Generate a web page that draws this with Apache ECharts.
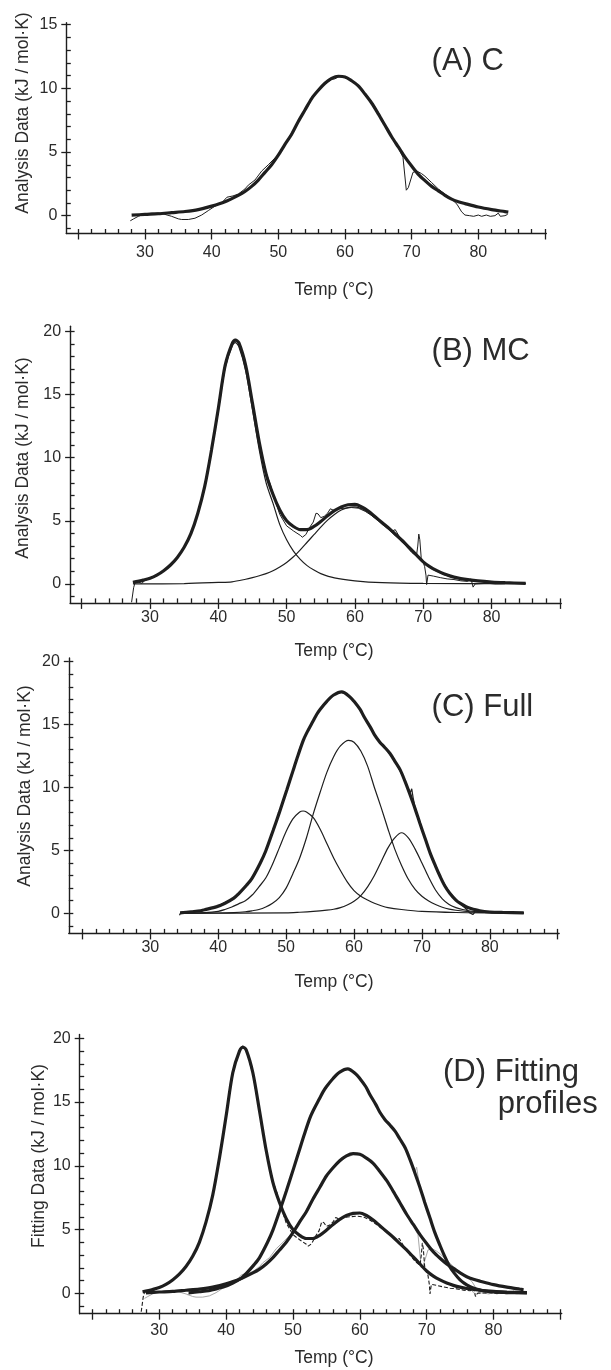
<!DOCTYPE html>
<html>
<head>
<meta charset="utf-8">
<script src="https://cdn.jsdelivr.net/npm/echarts@6.0.0/dist/echarts.min.js"></script>
<style>
  html, body { margin: 0; padding: 0; background: #fff; }
  #main { width: 611px; height: 1370px; }
</style>
</head>
<body>
<div id="main"></div>
<script>
// 轴刻度
var xMajorTicks = [20, 30, 40, 50, 60, 70, 80, 90];
var xMinorTicks = [20, 22, 24, 26, 28, 30, 32, 34, 36, 38, 40, 42, 44, 46, 48, 50, 52, 54, 56, 58, 60, 62, 64, 66, 68, 70, 72, 74, 76, 78, 80, 82, 84, 86, 88, 90];
var xLabels = [30, 40, 50, 60, 70, 80];
var yLabelsA = [0, 5, 10, 15];
var yMinorA = [-1, 0, 1, 2, 3, 4, 5, 6, 7, 8, 9, 10, 11, 12, 13, 14, 15];
var yLabels = [0, 5, 10, 15, 20];
var yMinor = [-1, 0, 1, 2, 3, 4, 5, 6, 7, 8, 9, 10, 11, 12, 13, 14, 15, 16, 17, 18, 19, 20];

// (A) C : [温度, 值]
var aFit = [[28,0.04],[30,0.1],[32,0.15],[34,0.24],[36,0.33],[38,0.48],[40,0.75],[42,1.1],[44,1.6],[45,1.9],[46,2.3],[47,2.8],[48,3.4],[49,4.0],[50,4.75],[51,5.6],[52,6.4],[53,7.4],[54,8.3],[55,9.2],[56,9.85],[57,10.4],[58,10.78],[59,10.95],[60,10.9],[61,10.6],[62,10.2],[63,9.55],[64,8.85],[65,8.0],[66,7.1],[67,6.2],[68,5.4],[69,4.6],[70,3.9],[71,3.25],[72,2.75],[73,2.3],[74,1.95],[75,1.6],[76,1.3],[77,1.1],[78,0.95],[80,0.68],[82,0.48],[84,0.32],[84.5,0.28]];
var aRaw = [[27.8,-0.4],[28.3,-0.25],[29,-0.05],[29.5,0.05],[30.5,0.15],[31,0.2],[32,0.22],[32.5,0.18],[33,0.1],[34,-0.05],[35,-0.25],[35.5,-0.3],[36.5,-0.3],[37.5,-0.2],[38.5,0.05],[39.5,0.4],[40.5,0.75],[41.5,1.0],[42.3,1.45],[43.2,1.55],[44,1.7],[45,2.1],[45.5,2.4],[46.5,2.8],[47.5,3.5],[48.5,4.0],[50,4.8],[52,6.5],[54,8.4],[56,9.9],[57,10.35],[58,10.7],[58.5,10.75],[59.2,10.95],[60,10.85],[61,10.6],[62,10.2],[63,9.6],[64,8.95],[65,8.1],[66,7.15],[67,6.25],[68,5.4],[68.4,4.9],[68.7,4.6],[69.2,2.0],[69.5,2.2],[70.2,3.4],[70.8,3.5],[71.5,3.3],[72,3.1],[73,2.6],[74,2.1],[75,1.7],[76,1.3],[76.8,0.9],[77.5,0.3],[78,0.05],[78.7,0.0],[79.3,-0.05],[80,0.05],[80.5,-0.05],[81.2,0.05],[81.8,-0.05],[82.5,0.0],[83,0.2],[83.3,-0.05],[84,0.0],[84.4,0.1]];

// (B) MC
var bFit = [[27.5,0.12],[29,0.3],[30,0.45],[31,0.7],[32,1.05],[33,1.5],[34,2.1],[35,2.9],[36,4.0],[37,5.6],[38,7.7],[39,10.6],[40,13.9],[41,17.3],[42,19.0],[42.5,19.3],[43,19.1],[44,17.3],[45,14.3],[46,11.2],[47,8.7],[48,7.1],[49,5.85],[50,5.0],[51,4.55],[52,4.3],[53,4.3],[54,4.55],[55,4.95],[56,5.4],[57,5.8],[58,6.1],[59,6.27],[60,6.3],[61,6.1],[62,5.75],[63,5.3],[64,4.85],[65,4.4],[66,3.9],[67,3.4],[68,2.85],[69,2.3],[70,1.75],[71,1.35],[72,1.05],[73,0.8],[74,0.62],[75,0.48],[76,0.38],[78,0.24],[80,0.15],[82,0.1],[85,0.05]];
var bPeak1 = [[27.5,0.12],[29,0.3],[30,0.45],[31,0.7],[32,1.05],[33,1.5],[34,2.1],[35,2.9],[36,4.0],[37,5.55],[38,7.6],[39,10.5],[40,13.7],[41,17.1],[42,18.8],[42.5,19.1],[43,18.8],[44,16.9],[45,13.8],[46,10.6],[47,8.0],[48,6.4],[49,4.7],[50,3.5],[51,2.6],[52,1.95],[53,1.45],[54,1.1],[55,0.82],[57,0.48],[60,0.25],[64,0.1],[70,0.04],[85,0.02]];
var bPeak2 = [[27.5,0.0],[35,0.03],[40,0.12],[42,0.17],[44,0.37],[45,0.5],[46,0.65],[47,0.82],[48,1.05],[49,1.35],[50,1.7],[51,2.15],[52,2.7],[53,3.3],[54,3.9],[55,4.5],[56,5.05],[57,5.5],[58,5.85],[59,6.05],[60,6.1],[61,5.95],[62,5.65],[63,5.2],[64,4.75],[65,4.3],[66,3.8],[67,3.3],[68,2.8],[69,2.25],[70,1.7],[71,1.3],[72,1.0],[73,0.75],[74,0.58],[75,0.45],[76,0.35],[78,0.22],[80,0.14],[82,0.09],[85,0.04]];
var bRaw = [[27.3,-1.45],[27.6,-0.3],[27.8,0.1],[28.3,0.15],[28.8,0.05],[29.2,0.25],[30,0.45],[31,0.72],[32,1.05],[33,1.5],[34,2.1],[35,2.95],[36,4.0],[37,5.6],[38,7.8],[39,10.7],[40,14.0],[41,17.2],[42,19.1],[42.5,19.4],[43,19.1],[44,17.2],[45,14.2],[46,11.1],[47,8.8],[47.6,7.9],[48.2,6.8],[49,5.5],[50,4.6],[51,4.2],[52,3.85],[52.3,3.7],[52.8,3.9],[53.4,4.5],[53.9,4.9],[54.3,5.6],[54.6,5.55],[55,5.25],[55.5,5.35],[56,5.6],[56.4,5.95],[57,5.8],[57.6,5.95],[58.5,6.0],[59.5,6.05],[60.5,6.0],[61.5,5.75],[62.5,5.4],[63.5,5.0],[64.5,4.6],[65.5,4.2],[65.9,4.3],[66.5,3.75],[67.5,3.0],[68.3,2.5],[69,2.2],[69.2,3.0],[69.35,3.95],[69.5,3.5],[69.7,2.1],[70.2,1.4],[70.4,0.7],[70.5,-0.05],[70.7,0.7],[71.5,0.62],[72.5,0.5],[73.5,0.4],[74.5,0.35],[75.5,0.25],[76.5,0.2],[77.0,0.4],[77.3,-0.25],[77.6,0.0],[78.3,0.02],[79.5,0.05],[80.5,0.0],[82,0.02]];

// (C) Full
var cFit = [[34.4,0.03],[36,0.12],[37.4,0.2],[38,0.28],[39.8,0.53],[41,0.8],[42.3,1.2],[43,1.55],[44.2,2.25],[45,2.8],[46.2,4.0],[47,4.95],[48.1,6.6],[49,8.0],[50.1,9.8],[51,11.3],[51.6,12.3],[52.5,13.7],[53,14.3],[54,15.3],[54.5,15.8],[55,16.2],[56,16.85],[57,17.35],[58.2,17.6],[59.4,17.2],[60,16.85],[60.9,16.2],[61.5,15.6],[62.4,14.8],[63,14.2],[63.8,13.6],[64.5,13.2],[65.3,12.7],[66,12.1],[66.8,11.4],[67.5,10.5],[68.2,9.5],[69,8.3],[69.7,7.15],[70.5,5.9],[71.2,4.8],[72,3.75],[72.7,2.9],[73.4,2.15],[74.1,1.6],[75,1.05],[75.6,0.8],[76.5,0.52],[77.1,0.4],[78.5,0.2],[80,0.1],[82,0.06],[85,0.03]];
var cPeak1 = [[34.4,0.0],[38,0.05],[40,0.15],[41,0.3],[42,0.5],[43,0.75],[44,1.0],[45,1.45],[46,2.1],[47,2.8],[48,3.9],[49,5.2],[50,6.5],[51,7.5],[52,8.05],[52.5,8.13],[53,8.05],[54,7.6],[55,6.7],[56,5.55],[57,4.4],[58,3.4],[59,2.5],[60,1.8],[61,1.35],[62,1.05],[63,0.8],[64,0.6],[65,0.45],[67,0.3],[70,0.15],[75,0.06],[80,0.03],[85,0.02]];
var cPeak2 = [[34.4,0.0],[40,0.02],[42.3,0.05],[44,0.12],[45,0.2],[46,0.3],[47,0.5],[48,0.8],[49,1.25],[50,2.0],[51,3.15],[52,4.4],[53,6.0],[54,7.9],[55,9.6],[56,11.2],[57,12.45],[58,13.3],[59.2,13.75],[60,13.6],[61,12.9],[62,11.7],[63,10.0],[64,8.4],[65,6.7],[66,5.1],[67,3.8],[68,2.7],[69,1.9],[70,1.35],[71,0.98],[72,0.7],[73,0.48],[74,0.33],[75,0.24],[77,0.12],[80,0.05],[85,0.02]];
var cPeak3 = [[34.4,0.0],[50,0.03],[52,0.08],[54,0.15],[56,0.25],[57,0.32],[58,0.45],[59,0.66],[60,0.95],[61,1.4],[62,2.1],[63,3.0],[64,4.1],[65,5.2],[66,6.0],[67,6.4],[68,6.0],[69,5.1],[70,4.0],[71,2.85],[72,1.85],[73,1.15],[74,0.7],[75,0.45],[76,0.3],[78,0.12],[80,0.06],[85,0.02]];
var cRaw = [[34.3,-0.15],[34.5,0.08],[36,0.1],[37.5,0.18],[39,0.4],[40,0.6],[41,0.85],[42,1.1],[43,1.5],[44,2.1],[45,2.8],[46,3.8],[47,4.9],[48,6.4],[49,7.9],[50,9.6],[51,11.2],[52,13.1],[53,14.3],[54,15.3],[55,16.2],[56,16.85],[57,17.35],[58,17.6],[59,17.4],[60,16.9],[61,16.1],[62,15.1],[63,14.2],[64,13.5],[65,12.85],[66,12.1],[67,11.1],[67.8,10.1],[68.3,9.6],[68.5,9.9],[68.7,9.2],[69,8.4],[70,6.7],[71,5.1],[72,3.8],[73,2.6],[74,1.7],[75,1.1],[76,0.6],[76.6,0.3],[77,0.05],[77.5,-0.1],[77.8,0.1],[78.5,0.15],[80,0.1],[82,0.05],[85,0.02]];

var ink = '#1e1e1e';
var textColor = '#2b2b2b';
var font = '"Liberation Sans", Arial, Helvetica, sans-serif';

var chart = echarts.init(document.getElementById('main'));

// 四个坐标系的位置
var grids = [
    {left: 66.3, top: 22.8, width: 480, height: 210.7, outerBoundsMode: 'none'},
    {left: 70.1, top: 326.3, width: 491.1, height: 276.6, outerBoundsMode: 'none'},
    {left: 68.8, top: 657.9, width: 490.3, height: 275.5, outerBoundsMode: 'none'},
    {left: 79.7, top: 1034.5, width: 482, height: 279.2, outerBoundsMode: 'none'}
];
var xRange = [[18.2, 90.2], [18.3, 90.2], [18, 90.2], [18.1, 90.2]];
var yRange = [[-1.4, 15.15], [-1.5, 20.4], [-1.6, 20.3], [-1.6, 20.3]];
var xMargin = [11, 7, 6.5, 9];

var xAxes = [];
var yAxes = [];
for (var i = 0; i < 4; i++) {
    var axisLineStyle = {color: ink, width: 1.4};
    xAxes.push({
        gridIndex: i, type: 'value', position: 'bottom',
        min: xRange[i][0], max: xRange[i][1],
        axisLine: {show: true, onZero: false, lineStyle: axisLineStyle},
        axisTick: {show: true, length: 6, customValues: xMajorTicks, lineStyle: {color: ink, width: 1.3}},
        axisLabel: {show: true, customValues: xLabels, margin: xMargin[i], fontSize: 16, color: textColor, fontFamily: font},
        splitLine: {show: false}
    });
    xAxes.push({
        gridIndex: i, type: 'value', position: 'bottom',
        min: xRange[i][0], max: xRange[i][1],
        axisLine: {show: false, onZero: false},
        axisTick: {show: true, inside: true, length: 4.5, customValues: xMinorTicks, lineStyle: {color: ink, width: 1.3}},
        axisLabel: {show: false},
        splitLine: {show: false}
    });
    var labs = i === 0 ? yLabelsA : yLabels;
    var minors = i === 0 ? yMinorA : yMinor;
    yAxes.push({
        gridIndex: i, type: 'value', position: 'left',
        min: yRange[i][0], max: yRange[i][1],
        axisLine: {show: true, onZero: false, lineStyle: axisLineStyle},
        axisTick: {show: true, length: 5, customValues: labs, lineStyle: {color: ink, width: 1.3}},
        axisLabel: {show: true, customValues: labs, margin: 9, fontSize: 16, color: textColor, fontFamily: font},
        splitLine: {show: false}
    });
    yAxes.push({
        gridIndex: i, type: 'value', position: 'left',
        min: yRange[i][0], max: yRange[i][1],
        axisLine: {show: false, onZero: false},
        axisTick: {show: true, inside: true, length: 4.5, customValues: minors, lineStyle: {color: ink, width: 1.3}},
        axisLabel: {show: false},
        splitLine: {show: false}
    });
}

// 线条样式
function curve(name, data, grid, width, opts) {
    opts = opts || {};
    return {
        name: name,
        type: 'line',
        xAxisIndex: grid * 2,
        yAxisIndex: grid * 2,
        data: data,
        symbol: 'none',
        smooth: opts.smooth === undefined ? 0.3 : opts.smooth,
        z: opts.z || 2,
        lineStyle: {color: opts.color || ink, width: width, type: opts.type || 'solid'},
        silent: true
    };
}

var series = [
    // (A)
    curve('A raw', aRaw, 0, 1, {smooth: false}),
    curve('A fit', aFit, 0, 3.2, {z: 3}),
    // (B)
    curve('B peak 1', bPeak1, 1, 1.2),
    curve('B peak 2', bPeak2, 1, 1.2),
    curve('B raw', bRaw, 1, 1, {smooth: false}),
    curve('B fit', bFit, 1, 3.2, {z: 3}),
    // (C)
    curve('C peak 1', cPeak1, 2, 1.2),
    curve('C peak 2', cPeak2, 2, 1.2),
    curve('C peak 3', cPeak3, 2, 1.2),
    curve('C raw', cRaw, 2, 1.2, {smooth: false}),
    curve('C fit', cFit, 2, 3.2, {z: 3}),
    // (D) 拟合曲线汇总
    curve('D A raw', aRaw, 3, 1, {smooth: false, color: '#a8a8a8'}),
    curve('D C raw', cRaw, 3, 1, {smooth: false, color: '#a8a8a8'}),
    curve('D B raw', bRaw, 3, 1.1, {smooth: false, type: [4, 2]}),
    curve('D A fit', aFit, 3, 3.2, {z: 3}),
    curve('D B fit', bFit, 3, 3.2, {z: 3}),
    curve('D C fit', cFit, 3, 3.2, {z: 3})
];

function txt(x, y, s, size, rot, align) {
    return {
        type: 'text', x: x, y: y, rotation: rot || 0, silent: true,
        style: {text: s, fill: textColor, font: size + 'px ' + font, textAlign: align || 'center', textVerticalAlign: 'middle'}
    };
}

var graphics = [
    txt(23, 113, 'Analysis Data (kJ / mol·K)', 17.5, Math.PI / 2),
    txt(23, 458, 'Analysis Data (kJ / mol·K)', 17.5, Math.PI / 2),
    txt(25, 786, 'Analysis Data (kJ / mol·K)', 17.5, Math.PI / 2),
    txt(39, 1156, 'Fitting Data (kJ / mol·K)', 17.5, Math.PI / 2),
    txt(334, 290, 'Temp (°C)', 17.5),
    txt(334, 651, 'Temp (°C)', 17.5),
    txt(334, 982, 'Temp (°C)', 17.5),
    txt(334, 1358, 'Temp (°C)', 17.5),
    txt(431.6, 61, '(A) C', 31, 0, 'left'),
    txt(431.6, 351, '(B) MC', 31, 0, 'left'),
    txt(431.6, 707, '(C) Full', 31, 0, 'left'),
    txt(443, 1072, '(D) Fitting', 31, 0, 'left'),
    txt(497.7, 1104, 'profiles', 31, 0, 'left')
];

var option = {
    backgroundColor: '#fff',
    animation: false,
    grid: grids,
    xAxis: xAxes,
    yAxis: yAxes,
    series: series,
    graphic: graphics
};
chart.setOption(option);
</script>
</body>
</html>
